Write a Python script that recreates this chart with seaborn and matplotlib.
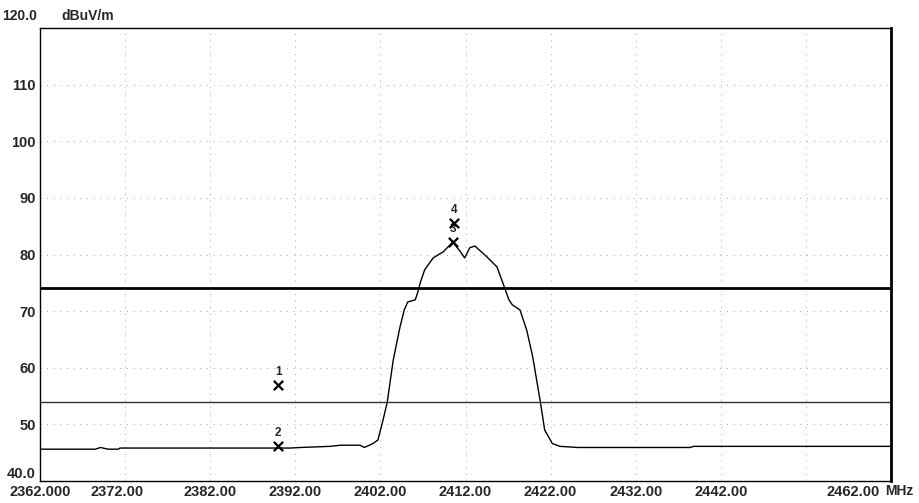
import pandas as pd
import matplotlib.pyplot as plt
import matplotlib.transforms as mtransforms
import seaborn as sns
import numpy as np

sns.set_style("white")
plt.rcParams['font.family'] = ['Liberation Sans', 'DejaVu Sans']
plt.rcParams['font.weight'] = 'bold'

# trace
freq = [2362.0, 2368.5, 2369.1, 2370.0, 2371.2, 2371.4, 2391.4, 2392.6, 2396.1,
        2397.3, 2399.6, 2400.1, 2401.0, 2401.7, 2402.3, 2402.8, 2403.5, 2404.3,
        2404.8, 2405.2, 2406.1, 2406.4, 2406.7, 2407.2, 2408.2, 2409.4, 2410.5,
        2411.4, 2411.9, 2412.5, 2413.1, 2414.5, 2415.7, 2416.6, 2417.1, 2417.5,
        2418.4, 2419.2, 2419.9, 2420.8, 2421.3, 2422.2, 2423.1, 2425.2, 2427.5,
        2438.4, 2438.8, 2456.0, 2462.0]
level = [45.6, 45.6, 45.9, 45.6, 45.6, 45.8, 45.8, 45.9, 46.1,
         46.3, 46.3, 45.9, 46.5, 47.2, 50.7, 53.9, 61.3, 67.2,
         70.2, 71.6, 72.0, 73.4, 75.1, 77.3, 79.4, 80.5, 82.2,
         80.5, 79.4, 81.2, 81.5, 79.6, 77.8, 74.1, 72.0, 71.1,
         70.2, 66.6, 61.9, 53.9, 49.0, 46.6, 46.1, 45.9, 45.9,
         45.9, 46.1, 46.1, 46.1]

# markers
mk_id = ['1', '2', '3', '4']
mk_freq = [2390.0, 2390.0, 2410.5, 2410.7]
mk_level = [56.9, 46.1, 82.2, 85.6]

# limit lines
peak_limit = 74
avg_limit = 54

xticks = [2362, 2372, 2382, 2392, 2402, 2412, 2422, 2432, 2442, 2452, 2462]
xlabels = ['2362.000', '2372.00', '2382.00', '2392.00', '2402.00', '2412.00',
           '2422.00', '2432.00', '2442.00', '', '2462.00']
yticks = [40, 50, 60, 70, 80, 90, 100, 110]
ylabels = ['40.0', '50', '60', '70', '80', '90', '100', '110']

fig = plt.figure(figsize=(9.2, 5.03), dpi=100)
ax = fig.add_axes([0.0435, 0.044, 0.925, 0.9])

trace = pd.DataFrame({'f': freq, 'L': level})
sns.lineplot(data=trace, x='f', y='L', ax=ax, color='black', lw=1.0)

ax.axhline(peak_limit, color='black', lw=2.0)
ax.axhline(avg_limit, color='#333333', lw=1.0)

mk = pd.DataFrame({'f': mk_freq, 'L': mk_level})
sns.scatterplot(data=mk, x='f', y='L', ax=ax, marker='x', s=45,
                color='black', linewidth=1.6, zorder=5)
for i, f, l in zip(mk_id, mk_freq, mk_level):
    ax.annotate(i, (f, l), xytext=(0, 5), textcoords='offset points',
                ha='center', va='bottom', fontsize=8.5, fontweight='bold')

ax.set_xlim(2362, 2462)
ax.set_ylim(40, 120)
ax.set_xticks(xticks)
ax.set_xticklabels(xlabels, fontsize=10.5, fontweight='bold')
ax.set_yticks(yticks)
ax.set_yticklabels(ylabels, fontsize=10.5, fontweight='bold')
ax.get_yticklabels()[0].set_verticalalignment('bottom')
ax.tick_params(length=0, pad=3)
ax.set_xlabel('')
ax.set_ylabel('')

# nudge a couple of x labels like the analyser printout
xl = ax.get_xticklabels()
xl[1].set_transform(xl[1].get_transform() +
                    mtransforms.ScaledTranslation(-0.08, 0, fig.dpi_scale_trans))
xl[-1].set_transform(xl[-1].get_transform() +
                     mtransforms.ScaledTranslation(-0.38, 0, fig.dpi_scale_trans))

ax.grid(True, color='#888888', lw=0.6, linestyle=(0, (1, 7)))
for s in ['left', 'top', 'bottom']:
    ax.spines[s].set_color('black')
    ax.spines[s].set_linewidth(1.0)
ax.spines['right'].set_color('black')
ax.spines['right'].set_linewidth(2.0)

ax.text(-0.003, 1.012, '120.0', transform=ax.transAxes, ha='right', va='bottom',
        fontsize=10, fontweight='bold')
ax.text(0.025, 1.012, 'dBuV/m', transform=ax.transAxes, ha='left', va='bottom',
        fontsize=10, fontweight='bold')
ax.text(0.993, -0.007, 'MHz', transform=ax.transAxes, ha='left', va='top',
        fontsize=10, fontweight='bold')

fig.savefig('out.png', dpi=100)
